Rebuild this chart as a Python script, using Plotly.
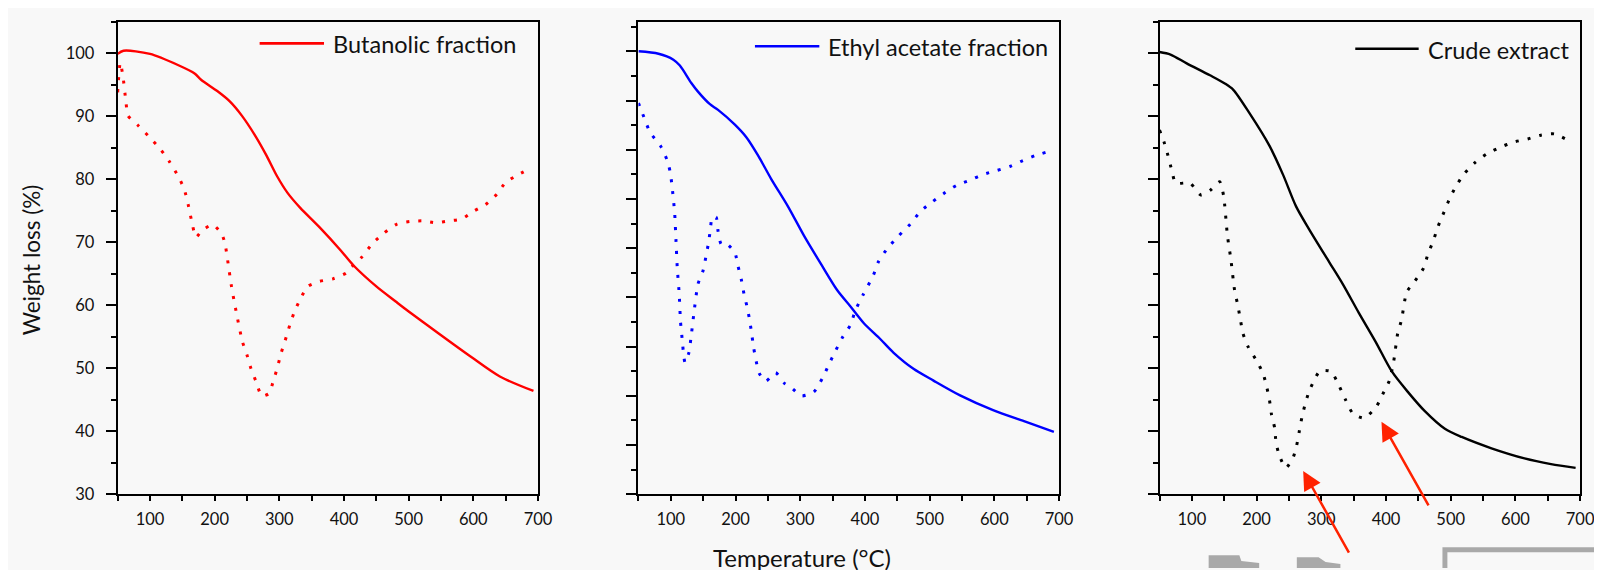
import plotly.graph_objects as go

# ---------------- data ----------------
# Butanolic fraction (panel 1)
bu_tg_T = [50, 59, 100, 144, 169, 179, 204, 223, 242, 264, 280, 297, 313, 332, 362, 395, 414, 450, 480, 499, 548, 598, 641, 693]
bu_tg_W = [99.9, 100.4, 99.9, 98.1, 96.8, 95.8, 94.0, 92.4, 90.1, 86.7, 83.8, 80.4, 77.8, 75.5, 72.4, 68.7, 66.4, 63.0, 60.6, 59.1, 55.4, 51.7, 48.7, 46.4]
bu_dtg_T = [50, 54, 58, 63, 66, 82, 99, 116, 130, 144, 153, 159, 166, 171, 181, 197, 211, 216, 220, 226, 234, 243, 250, 256, 264, 273, 284, 291, 297, 303, 309, 316, 323, 332, 344, 362, 383, 403, 412, 428, 444, 461, 482, 502, 522, 542, 562, 582, 600, 619, 636, 650, 669, 680]
bu_dtg_W = [93.8, 98.5, 96.5, 92.1, 90.1, 88.5, 86.7, 84.8, 82.8, 80.4, 78.4, 76.0, 72.6, 70.8, 71.9, 72.8, 71.3, 69.8, 67.2, 63.0, 58.6, 54.2, 52.1, 50.0, 47.9, 45.6, 46.0, 48.1, 50.1, 52.5, 54.4, 56.8, 58.9, 60.9, 63.0, 63.8, 64.2, 65.1, 66.1, 67.7, 69.8, 71.4, 72.9, 73.3, 73.4, 73.1, 73.4, 73.7, 74.9, 76.0, 77.6, 79.5, 80.7, 81.3]

# Ethyl acetate fraction (panel 2, own ordinate scale)
ea_tg_T = [50, 81, 104, 114, 132, 142, 160, 173, 199, 217, 235, 255, 281, 306, 332, 357, 378, 398, 424, 444, 475, 506, 547, 598, 649, 692]
ea_tg_W = [100, 99.5, 98.3, 97.1, 93.5, 91.8, 89.3, 88.1, 85.1, 82.5, 78.8, 74.1, 68.5, 62.5, 56.8, 51.5, 48.1, 44.8, 41.5, 38.8, 35.5, 33.1, 30.1, 27.1, 24.7, 22.7]
ea_dtg_T = [50, 60, 68, 84, 94, 99, 102, 106, 108, 110, 113, 115, 117, 122, 128, 131, 136, 142, 150, 154, 158, 161, 164, 170, 173, 178, 187, 199, 204, 209, 213, 218, 222, 225, 228, 232, 237, 247, 262, 276, 285, 302, 321, 334, 344, 354, 365, 378, 385, 397, 413, 421, 435, 452, 470, 486, 505, 524, 542, 564, 583, 604, 624, 644, 663, 688]
ea_dtg_W = [89.5, 86.1, 83.5, 80.8, 78.0, 75.5, 72.5, 67.1, 61.6, 56.0, 50.7, 45.1, 42.3, 36.8, 38.8, 41.6, 47.1, 52.7, 55.5, 58.1, 60.9, 63.6, 66.3, 66.3, 63.5, 60.8, 60.8, 59.1, 56.3, 53.6, 50.8, 48.0, 45.3, 42.6, 39.8, 37.0, 34.5, 33.0, 34.7, 32.5, 31.8, 30.0, 30.8, 33.5, 36.3, 39.0, 41.8, 44.5, 47.3, 50.5, 54.5, 57.3, 60.0, 62.5, 64.9, 67.5, 69.5, 71.3, 72.8, 73.9, 75.0, 75.8, 76.6, 77.8, 78.8, 79.8]

# Crude extract (panel 3)
cr_tg_T = [50, 67, 92, 128, 151, 164, 189, 220, 241, 261, 281, 312, 333, 358, 384, 409, 435, 460, 491, 517, 563, 614, 655, 693]
cr_tg_W = [100.2, 99.8, 98.4, 96.5, 95.2, 94.2, 90.5, 85.3, 80.7, 75.7, 72.1, 66.9, 63.4, 58.8, 54.2, 49.5, 46.1, 43.2, 40.4, 39.1, 37.3, 35.7, 34.8, 34.2]
cr_dtg_T = [50, 57, 63, 69, 75, 97, 114, 129, 143, 149, 155, 160, 166, 171, 175, 179, 187, 200, 210, 216, 220, 223, 228, 230, 235, 245, 256, 262, 266, 270, 275, 281, 288, 298, 315, 328, 337, 349, 366, 385, 395, 405, 412, 418, 424, 432, 445, 458, 465, 473, 480, 488, 497, 507, 521, 538, 557, 577, 597, 619, 639, 660, 683]
cr_dtg_W = [87.8, 85.9, 83.8, 81.4, 79.4, 79.4, 77.5, 78.3, 79.6, 77.4, 71.0, 67.5, 62.4, 60.0, 57.7, 55.5, 53.4, 51.2, 49.2, 46.9, 44.9, 42.7, 40.5, 38.3, 36.2, 34.2, 35.7, 37.8, 40.0, 42.2, 44.3, 46.3, 47.9, 49.6, 49.5, 47.1, 45.1, 42.8, 42.1, 43.9, 45.9, 48.0, 51.2, 55.5, 57.7, 62.1, 63.9, 65.9, 68.2, 70.2, 72.4, 74.4, 76.6, 78.7, 80.9, 82.7, 84.1, 85.1, 85.9, 86.4, 87.0, 87.2, 86.1]

legend_names = ["Butanolic fraction", "Ethyl acetate fraction", "Crude extract"]
colors = ["#ff0000", "#0000ff", "#000000"]
x_tick_vals = [100, 200, 300, 400, 500, 600, 700]
x_minor_vals = [50, 150, 250, 350, 450, 550, 650]
y_title = "Weight loss (%)"
x_title = "Temperature (°C)"

# arrows on crude extract panel: (head T, head W, tail T, tail W)
arrow_heads_T = [272, 393]
arrow_heads_W = [33.7, 41.5]
arrow_tails_T = [344, 467]
arrow_tails_W = [20.5, 28.0]

# ---------------- figure ----------------
W, H = 1602, 570
def fx(p): return p / W
def fy(p): return 1 - p / H

FONT = "Lato"
TXT = "#111111"
fig = go.Figure()

panels = [
    (bu_tg_T, bu_tg_W, bu_dtg_T, bu_dtg_W),
    (ea_tg_T, ea_tg_W, ea_dtg_T, ea_dtg_W),
    (cr_tg_T, cr_tg_W, cr_dtg_T, cr_dtg_W),
]
for i, (tT, tW, dT, dW) in enumerate(panels):
    xa = "x" if i == 0 else f"x{i+1}"
    ya = "y" if i == 0 else f"y{i+1}"
    fig.add_trace(go.Scatter(x=tT, y=tW, mode="lines", xaxis=xa, yaxis=ya,
                             line=dict(color=colors[i], width=2.4, shape="spline", smoothing=0.8),
                             showlegend=False, name=legend_names[i]))
    fig.add_trace(go.Scatter(x=dT, y=dW, mode="lines", xaxis=xa, yaxis=ya,
                             line=dict(color=colors[i], width=3, dash="3px,9px", shape="spline", smoothing=0.6),
                             showlegend=False, name=legend_names[i] + " DTG"))

x_domains = [(110.7, 535), (636.4, 1061), (1162.4, 1587)]
y_ranges = [(30, 105), (10, 106), (30, 105)]
y_dom = [fy(495), fy(14)]

layout = dict(
    width=W, height=H,
    margin=dict(l=0, r=0, t=0, b=0),
    paper_bgcolor="#f8f8f8", plot_bgcolor="#f8f8f8",
    font=dict(family=FONT, color=TXT),
    showlegend=False,
)
for i in range(3):
    sx = "xaxis" if i == 0 else f"xaxis{i+1}"
    sy = "yaxis" if i == 0 else f"yaxis{i+1}"
    layout[sx] = dict(
        domain=[fx(x_domains[i][0]), fx(x_domains[i][1])], range=[50, 700],
        anchor="y" if i == 0 else f"y{i+1}",
        tickmode="array", tickvals=x_tick_vals,
        ticks="outside", ticklen=5, tickwidth=2, tickcolor="black",
        minor=dict(tickmode="array", tickvals=x_minor_vals,
                   ticks="outside", ticklen=5, tickwidth=2, tickcolor="black"),
        showline=True, linecolor="black", linewidth=2, mirror=True,
        showgrid=False, zeroline=False,
        ticklabelstandoff=4,
        tickfont=dict(family=FONT, size=16.5, color=TXT),
    )
    lo, hi = y_ranges[i]
    layout[sy] = dict(
        domain=y_dom, range=[lo, hi],
        anchor="x" if i == 0 else f"x{i+1}",
        tick0=0, dtick=10,
        ticks="outside", ticklen=10, tickwidth=2, tickcolor="black",
        minor=dict(tick0=0, dtick=5, ticks="outside", ticklen=5, tickwidth=2, tickcolor="black"),
        showline=True, linecolor="black", linewidth=2, mirror=True,
        showgrid=False, zeroline=False,
        showticklabels=(i == 0),
        ticklabelstandoff=8,
        tickfont=dict(family=FONT, size=16.5, color=TXT),
    )
fig.update_layout(**layout)

# legends drawn as line + text inside each panel
leg_line = [(254, 319, 36), (754, 819, 39), (1360, 1424, 41.5)]
leg_text_x = [326, 826, 1431]
shapes = []
annotations = []
for i in range(3):
    x0, x1, yy = leg_line[i]
    shapes.append(dict(type="line", xref="paper", yref="paper",
                       x0=fx(x0), x1=fx(x1), y0=fy(yy), y1=fy(yy),
                       line=dict(color=colors[i], width=2.6)))
    annotations.append(dict(xref="paper", yref="paper", x=fx(leg_text_x[i]), y=fy(yy + 1),
                            xanchor="left", yanchor="middle", showarrow=False,
                            text=legend_names[i], font=dict(family=FONT, size=23.5, color=TXT)))

# axis titles
annotations.append(dict(xref="paper", yref="paper", x=fx(24), y=fy(256), textangle=-90,
                        xanchor="center", yanchor="middle", showarrow=False, text=y_title,
                        font=dict(family=FONT, size=22.5, color=TXT)))
annotations.append(dict(xref="paper", yref="paper", x=fx(802), y=fy(559),
                        xanchor="center", yanchor="middle", showarrow=False, text=x_title,
                        font=dict(family=FONT, size=24, color=TXT)))

# red arrows
for hT, hW, tT, tW in zip(arrow_heads_T, arrow_heads_W, arrow_tails_T, arrow_tails_W):
    annotations.append(dict(xref="x3", yref="y3", axref="x3", ayref="y3",
                            x=hT, y=hW, ax=tT, ay=tW, text="", showarrow=True,
                            arrowhead=2, arrowsize=1.5, arrowwidth=2.5, arrowcolor="#ff2200"))

# grey fragments at the bottom edge
grey = "#a9a9a9"
shapes.append(dict(type="path", xref="paper", yref="paper",
                   path=f"M {fx(1212)} {fy(557)} L {fx(1243)} {fy(557)} L {fx(1245)} {fy(563)} L {fx(1263)} {fy(565)} L {fx(1263)} {fy(570)} L {fx(1212)} {fy(570)} Z",
                   fillcolor=grey, line=dict(width=0)))
shapes.append(dict(type="path", xref="paper", yref="paper",
                   path=f"M {fx(1301)} {fy(559)} L {fx(1323)} {fy(559)} L {fx(1330)} {fy(564)} L {fx(1345)} {fy(566)} L {fx(1345)} {fy(570)} L {fx(1301)} {fy(570)} Z",
                   fillcolor=grey, line=dict(width=0)))
shapes.append(dict(type="path", xref="paper", yref="paper",
                   path=f"M {fx(1448)} {fy(570)} L {fx(1448)} {fy(549)} L {fx(1602)} {fy(549)} L {fx(1602)} {fy(554)} L {fx(1453)} {fy(554)} L {fx(1453)} {fy(570)} Z",
                   fillcolor=grey, line=dict(width=0)))

fig.update_layout(shapes=shapes, annotations=annotations)
fig.write_html("out.html")
